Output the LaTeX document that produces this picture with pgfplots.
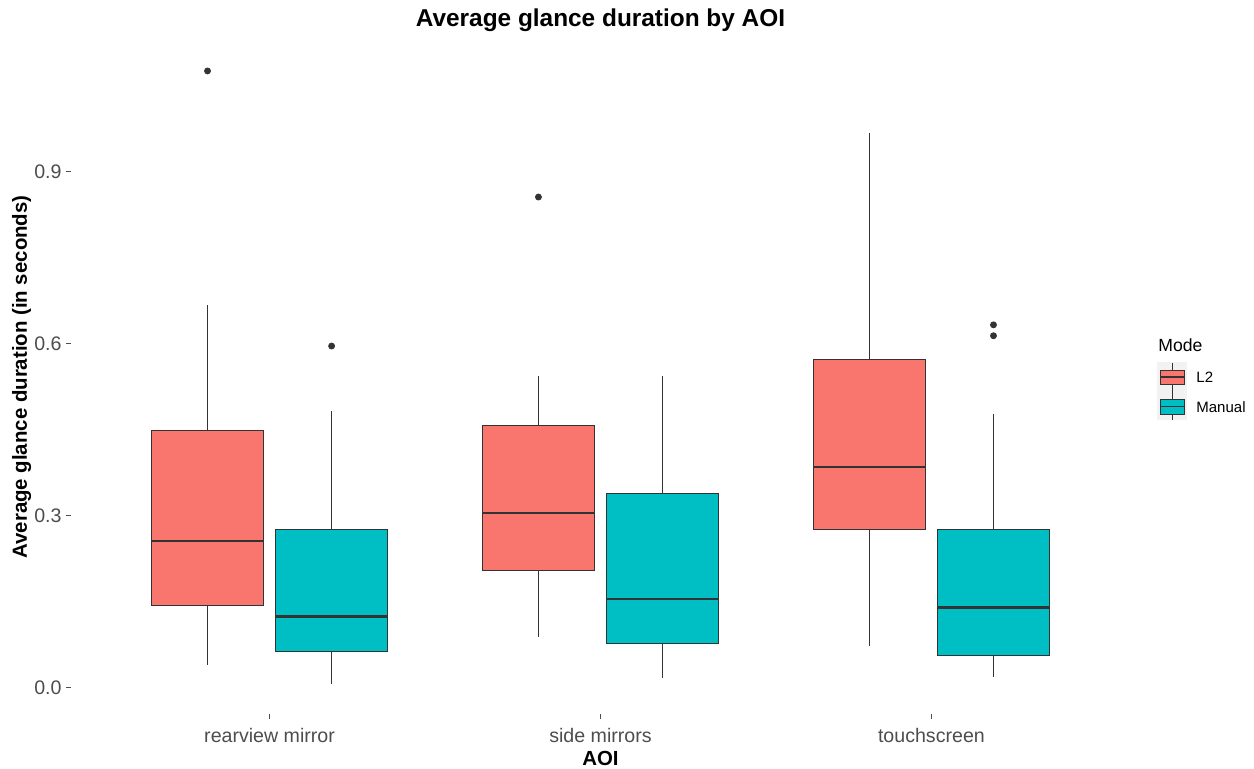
\documentclass[border=0pt]{standalone}
\usepackage{pgfplots}
\pgfplotsset{compat=1.18}
\usepgfplotslibrary{statistics}
\usepackage{fontspec}
\setmainfont{Liberation Sans}
\definecolor{cL}{HTML}{F8766D}
\definecolor{cM}{HTML}{00BFC4}
\definecolor{dk}{HTML}{333333}
\definecolor{tk}{HTML}{4D4D4D}
\definecolor{lg}{HTML}{F2F2F2}
\begin{document}
\begin{tikzpicture}
\useasboundingbox (0,0) rectangle (627pt,384pt);
\begin{axis}[
  at={(35.5pt,27pt)}, anchor=south west,
  width=529.5pt, height=337pt, scale only axis,
  xmin=0.4, xmax=3.6, ymin=-0.046, ymax=1.130,
  axis line style={draw=none},
  tick align=outside, tick pos=left,
  major tick length=2.5pt,
  tick style={draw=tk, line width=0.5pt},
  xtick={1,2,3}, xticklabels={rearview mirror, side mirrors, touchscreen},
  ytick={0,0.3,0.6,0.9},
  /pgf/number format/assume math mode=true,
  y tick label style={/pgf/number format/fixed, /pgf/number format/fixed zerofill, /pgf/number format/precision=1, inner xsep=2pt},
  x tick label style={yshift=-1pt},
  tick label style={font=\fontsize{9.8}{11}\selectfont, text=tk},
  title={Average glance duration by AOI},
  every axis title/.style={font=\bfseries\fontsize{12.2}{14}\selectfont, at={(axis description cs:0.5,1.0297)}, anchor=center},
  xlabel={AOI},
  xlabel style={font=\bfseries\fontsize{10.2}{12}\selectfont, at={(axis description cs:0.5,-0.0655)}, anchor=center},
  ylabel={Average glance duration (in seconds)},
  ylabel style={font=\bfseries\fontsize{10.2}{12}\selectfont, at={(axis description cs:-0.0465,0.5)}, anchor=center},
  boxplot/draw direction=y,
  boxplot/every box/.style={draw=dk, line width=0.55pt},
  boxplot/every whisker/.style={draw=dk, line width=0.55pt},
  boxplot/every median/.style={draw=dk, line width=1.3pt},
  boxplot/whisker extend=0,
  boxplot/box extend=0.3375,
]
% rearview mirror
\addplot[boxplot prepared={lower whisker=0.040, lower quartile=0.143, median=0.256, upper quartile=0.448, upper whisker=0.668, draw position=0.8125},
  fill=cL, draw=dk, mark=*, mark size=1.5pt, mark options={fill=dk, draw=dk}]
  table[row sep=\\, y index=0] {data\\ 1.076\\};
\addplot[boxplot prepared={lower whisker=0.007, lower quartile=0.063, median=0.124, upper quartile=0.276, upper whisker=0.483, draw position=1.1875},
  fill=cM, draw=dk, mark=*, mark size=1.5pt, mark options={fill=dk, draw=dk}]
  table[row sep=\\, y index=0] {data\\ 0.596\\};
% side mirrors
\addplot[boxplot prepared={lower whisker=0.089, lower quartile=0.204, median=0.305, upper quartile=0.457, upper whisker=0.544, draw position=1.8125},
  fill=cL, draw=dk, mark=*, mark size=1.5pt, mark options={fill=dk, draw=dk}]
  table[row sep=\\, y index=0] {data\\ 0.856\\};
\addplot[boxplot prepared={lower whisker=0.016, lower quartile=0.077, median=0.155, upper quartile=0.338, upper whisker=0.544, draw position=2.1875},
  fill=cM, draw=dk]
  coordinates {};
% touchscreen
\addplot[boxplot prepared={lower whisker=0.072, lower quartile=0.276, median=0.385, upper quartile=0.572, upper whisker=0.968, draw position=2.8125},
  fill=cL, draw=dk]
  coordinates {};
\addplot[boxplot prepared={lower whisker=0.019, lower quartile=0.056, median=0.140, upper quartile=0.276, upper whisker=0.478, draw position=3.1875},
  fill=cM, draw=dk, mark=*, mark size=1.5pt, mark options={fill=dk, draw=dk}]
  table[row sep=\\, y index=0] {data\\ 0.633\\ 0.614\\};
\end{axis}
\begin{scope}[shift={(0pt,384pt)}, x=0.5pt, y=-0.5pt]
\node[anchor=west, font=\fontsize{8.8}{10}\selectfont, inner sep=0] at (1158,345) {Mode};
\fill[lg] (1157,362) rectangle (1187,420);
\draw[dk, line width=0.5pt] (1172,363) -- (1172,370) (1172,384) -- (1172,391);
\filldraw[fill=cL, draw=dk, line width=0.5pt] (1160,370) rectangle (1184,384);
\draw[dk, line width=0.9pt] (1160,377) -- (1184,377);
\draw[dk, line width=0.5pt] (1172,391) -- (1172,399) (1172,414) -- (1172,420);
\filldraw[fill=cM, draw=dk, line width=0.5pt] (1160,399) rectangle (1184,414);
\draw[dk, line width=0.9pt] (1160,406.5) -- (1184,406.5);
\node[anchor=west, font=\fontsize{7.5}{9}\selectfont, inner sep=0] at (1196,377) {L2};
\node[anchor=west, font=\fontsize{7.5}{9}\selectfont, inner sep=0] at (1196,407) {Manual};
\end{scope}
\end{tikzpicture}
\end{document}
